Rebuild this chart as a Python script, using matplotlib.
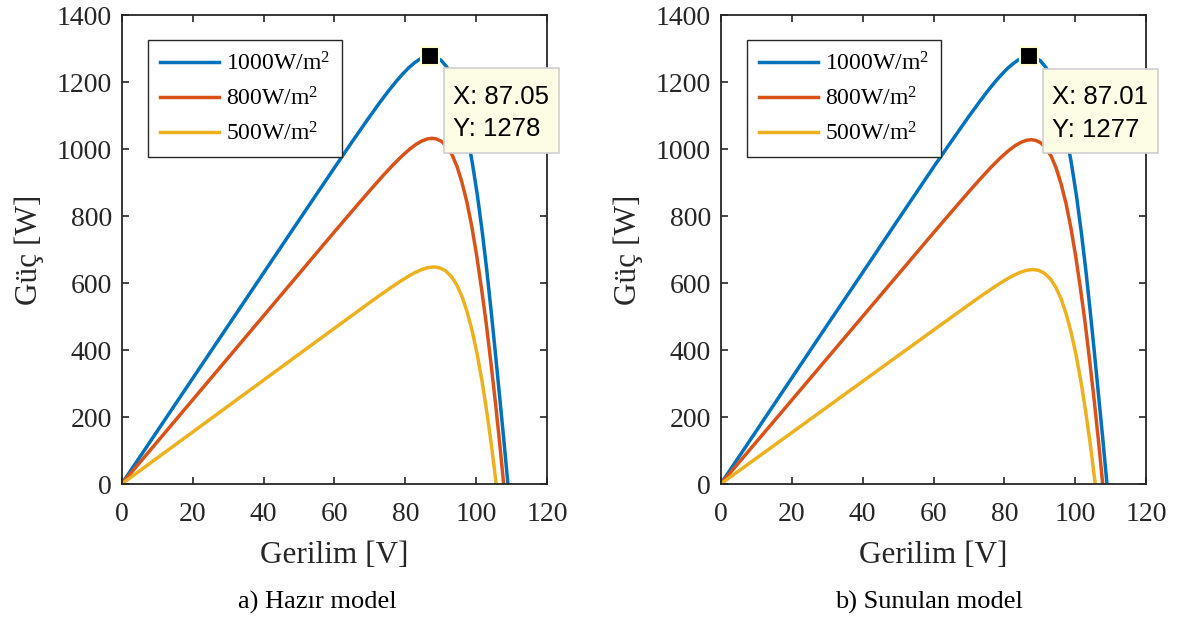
import matplotlib
matplotlib.use("Agg")
import matplotlib.pyplot as plt
from matplotlib.patches import Rectangle

plt.rcParams['font.family'] = ['Liberation Serif', 'DejaVu Serif']
plt.rcParams['mathtext.fontset'] = 'custom'
plt.rcParams['mathtext.rm'] = 'Liberation Serif'
plt.rcParams['mathtext.it'] = 'Liberation Serif:italic'

# ---- data (voltage [V], power [W]) ----
labels = ['1000W/m$^2$', '800W/m$^2$', '500W/m$^2$']
colors = ['#0072BD', '#D95319', '#EDB120']

# a) Hazir model
v_1000_a = [0, 10, 20, 30, 40, 50, 60, 65.57, 69.67, 72.69, 75.10, 77.38, 79.25, 80.98, 82.58, 84.04, 85.60,
            87.05, 88.53, 90.04, 91.60, 93.12, 94.61, 96.03, 97.40, 98.86, 100.29, 101.68, 102.96,
            104.15, 105.31, 106.46, 107.62, 108.9]
p_1000_a = [0, 157.5, 315, 472.5, 630, 787.5, 944.3, 1030.8, 1093.1, 1137.6, 1171.6, 1201.7, 1224.4, 1243.0,
            1257.6, 1268.1, 1275.5, 1278, 1274.9, 1265.0, 1245.8, 1215.9, 1170.9, 1113.2, 1042.6, 958.8,
            861.7, 751.0, 636.3, 518.0, 396.6, 272.4, 145.6, 0]
v_800_a = [0, 10, 20, 30, 40, 50, 60, 64.41, 70.19, 73.85, 76.56, 79.06, 81.23, 83.10, 84.75, 86.21, 87.5,
           88.79, 90.14, 91.64, 93.14, 94.57, 95.96, 97.37, 98.73, 100.07, 101.43, 102.78, 104.07,
           105.38, 106.57, 107.7]
p_800_a = [0, 125.5, 251, 376.5, 502, 627.5, 753, 807.7, 878.8, 922.4, 953.2, 979.5, 999.9, 1014.7, 1024.6,
           1030.2, 1032.0, 1030.0, 1023.1, 1008.0, 983.1, 947.2, 899.6, 840.0, 767.9, 683.2, 585.5, 479.5,
           365.3, 242.8, 122.7, 0]
v_500_a = [0, 10, 20, 30, 40, 50, 60, 68.74, 72.57, 75.79, 78.38, 80.64, 82.72, 84.53, 86.19, 88,
           89.65, 91.32, 92.93, 94.44, 95.90, 97.34, 98.77, 100.17, 101.56, 102.87, 104.20, 105.6]
p_500_a = [0, 77.5, 155, 232.5, 310, 387.5, 465, 532.4, 561.6, 585.5, 603.9, 618.9, 631.2, 639.9, 645.6, 648,
           645.5, 636.5, 619.8, 595.0, 561.0, 515.9, 459.3, 390.7, 309.8, 221.2, 119.8, 0]

# b) Sunulan model
v_1000_b = [0, 10, 20, 30, 40, 50, 60, 65.57, 69.67, 72.69, 75.10, 77.38, 79.25, 80.98, 82.58, 84.04, 85.60,
            87.01, 88.53, 90.04, 91.60, 93.12, 94.61, 96.03, 97.40, 98.86, 100.29, 101.68, 102.96,
            104.15, 105.31, 106.46, 107.62, 108.9]
p_1000_b = [0, 158, 316, 474, 631, 789, 946, 1031, 1093, 1137, 1171, 1201, 1223, 1242, 1256, 1267, 1274,
            1277, 1274, 1264, 1245, 1215, 1170, 1112, 1042, 958, 861, 750, 636, 518, 397, 272, 146, 0]
v_800_b = v_800_a
p_800_b = [0, 125.0, 250.0, 375.0, 500.0, 625.0, 750.0, 804.5, 875.3, 918.7, 949.4, 975.6, 995.9, 1010.6,
           1020.5, 1026.1, 1027.9, 1025.9, 1019.0, 1004.0, 979.2, 943.4, 896.0, 836.6, 764.8, 680.5, 583.2,
           477.6, 363.8, 241.8, 122.2, 0]
v_500_b = v_500_a
p_500_b = [0, 76.6, 153.1, 229.7, 306.3, 382.9, 459.4, 526.0, 554.9, 578.5, 596.7, 611.5, 623.6, 632.2,
           637.9, 640.2, 637.8, 628.9, 612.4, 587.9, 554.3, 509.7, 453.8, 386.0, 306.1, 218.5, 118.4, 0]

mpp_a = (87.05, 1278)
mpp_b = (87.01, 1277)
captions = ['a) Hazır model', 'b) Sunulan model']

panels = [
    ([(v_1000_a, p_1000_a), (v_800_a, p_800_a), (v_500_a, p_500_a)], mpp_a),
    ([(v_1000_b, p_1000_b), (v_800_b, p_800_b), (v_500_b, p_500_b)], mpp_b),
]

fig = plt.figure(figsize=(11.79, 6.21), dpi=100)
axes_pos = [[0.1032, 0.2206, 0.3610, 0.7552], [0.6113, 0.2206, 0.3610, 0.7552]]
dark = '#262626'
tip_font = ['Liberation Sans', 'DejaVu Sans']

for k, (curves, mpp) in enumerate(panels):
    ax = fig.add_axes(axes_pos[k])
    for (v, p), lab, c in zip(curves, labels, colors):
        ax.plot(v, p, color=c, lw=2.5, label=lab)

    ax.set_xlim(0, 120)
    ax.set_ylim(0, 1400)
    ax.set_xticks(range(0, 121, 20))
    ax.set_yticks(range(0, 1401, 200))
    ax.tick_params(direction='in', top=True, right=True, length=5, width=1.2,
                   labelsize=20, colors=dark, labelcolor=dark)
    ax.tick_params(axis='x', pad=13)
    ax.tick_params(axis='y', pad=7)
    for s in ax.spines.values():
        s.set_linewidth(1.3)
        s.set_color(dark)
    ax.set_xlabel('Gerilim [V]', fontsize=22.5, color=dark, labelpad=10)
    ax.set_ylabel('Güç [W]', fontsize=22.5, color=dark, labelpad=9)

    leg = ax.legend(loc='upper left', bbox_to_anchor=(0.0625, 0.9467), borderaxespad=0,
                    fontsize=17, handlelength=2.5, handletextpad=0.3, borderpad=0.5,
                    labelspacing=0.5, fancybox=False, framealpha=1)
    leg.get_frame().set_edgecolor(dark)
    leg.get_frame().set_linewidth(1.0)
    for h in leg.get_lines():
        h.set_linewidth(2.5)

    # data tip: marker, box and two text lines
    ax.plot(mpp[0], mpp[1], 's', ms=12.5, mfc='black', mec='#fdfbd0', mew=1.5,
            zorder=5, clip_on=False)
    ax.add_patch(Rectangle((mpp[0] + 3.8, mpp[1] - 289), 32.4, 252, fc='#fdfde6', ec='#cfcfcf',
                           lw=1.2, zorder=6, clip_on=False))
    ax.text(mpp[0] + 6.3, mpp[1] - 122, f'X: {mpp[0]:.2f}', ha='left', va='center',
            fontsize=18.5, family=tip_font, color='black', zorder=7, clip_on=False)
    ax.text(mpp[0] + 6.3, mpp[1] - 219, f'Y: {mpp[1]}', ha='left', va='center',
            fontsize=18.5, family=tip_font, color='black', zorder=7, clip_on=False)

for k, cap in enumerate(captions):
    fig.text([0.2695, 0.788][k], 0.03, cap, ha='center', va='center', fontsize=19, color='black')

fig.savefig('out.png', dpi=100)
